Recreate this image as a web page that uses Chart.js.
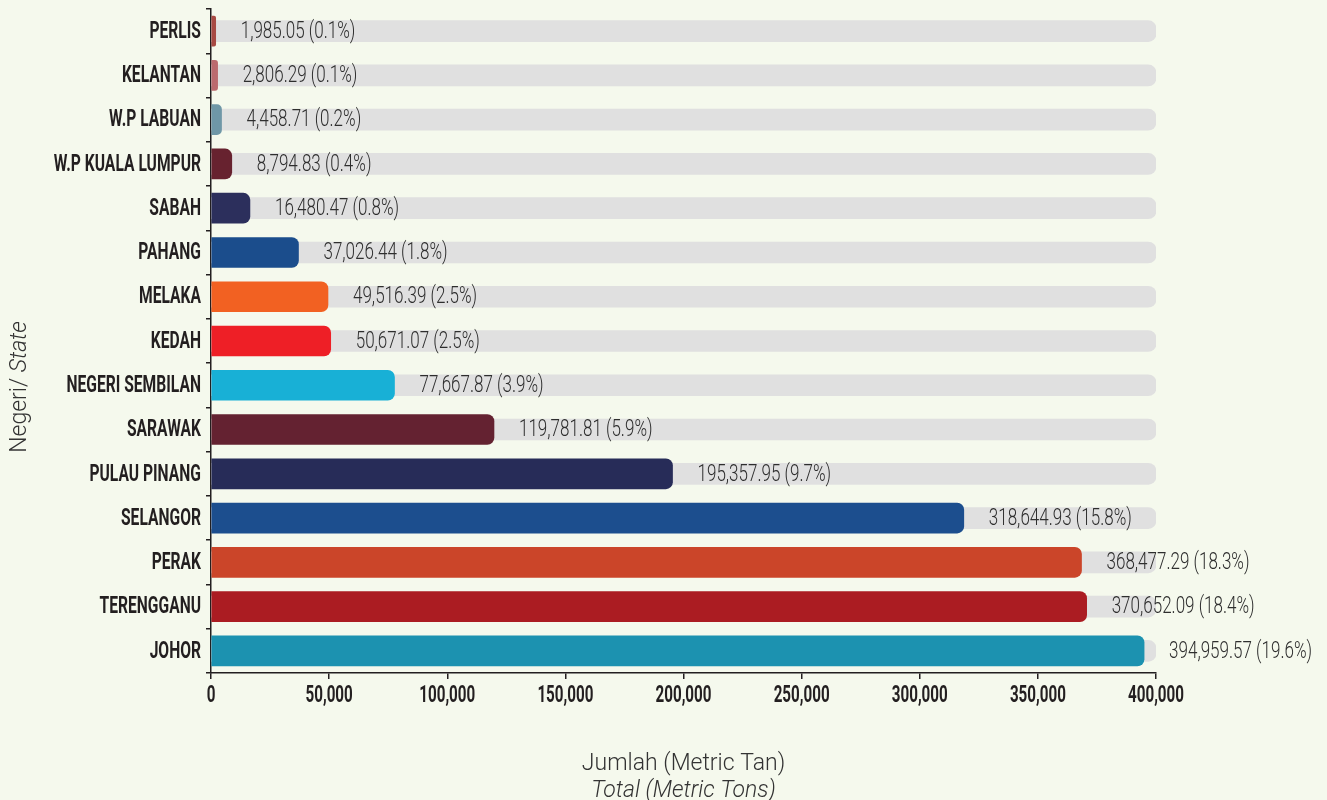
<!DOCTYPE html>
<html>
<head>
<meta charset="utf-8">
<title>Jumlah mengikut Negeri</title>
<script src="https://cdn.jsdelivr.net/npm/chart.js@4/dist/chart.umd.min.js"></script>
<style>
  html, body { margin: 0; padding: 0; background: #f5f9ed; }
  #wrap { position: relative; width: 1327px; height: 800px; }
</style>
</head>
<body>
<div id="wrap"><canvas id="chart" width="1327" height="800"></canvas></div>
<script>
// States, top to bottom
const states = ['PERLIS', 'KELANTAN', 'W.P LABUAN', 'W.P KUALA LUMPUR', 'SABAH', 'PAHANG', 'MELAKA',
  'KEDAH', 'NEGERI SEMBILAN', 'SARAWAK', 'PULAU PINANG', 'SELANGOR', 'PERAK', 'TERENGGANU', 'JOHOR'];

// Total in metric tons
const totals = [1985.05, 2806.29, 4458.71, 8794.83, 16480.47, 37026.44, 49516.39,
  50671.07, 77667.87, 119781.81, 195357.95, 318644.93, 368477.29, 370652.09, 394959.57];

// Share of the national total (%)
const shares = [0.1, 0.1, 0.2, 0.4, 0.8, 1.8, 2.5, 2.5, 3.9, 5.9, 9.7, 15.8, 18.3, 18.4, 19.6];

const barColors = ['#a84a44', '#bb6a6e', '#6f97a7', '#67222f', '#2c2f5c', '#1b4d8c', '#f26122',
  '#ee1f26', '#18b0d6', '#642231', '#272c58', '#1c4e8e', '#cb4529', '#ab1c22', '#1c92b0'];

const axisMax = 400000;
const xTicks = [0, 50000, 100000, 150000, 200000, 250000, 300000, 350000, 400000];

const ink = '#231f20';
const boldFont = "bold 23px Roboto, sans-serif";
const lightFont = "300 23px Roboto, sans-serif";

const fmt = v => v.toLocaleString('en-US', { minimumFractionDigits: 2, maximumFractionDigits: 2 });

// Narrow lettering: draw text squeezed horizontally around its anchor
function narrowText(ctx, text, x, y, font, squeeze, align, color) {
  ctx.save();
  ctx.font = font;
  ctx.fillStyle = color;
  ctx.textAlign = align;
  ctx.textBaseline = 'middle';
  ctx.translate(x, y);
  ctx.scale(squeeze, 1);
  ctx.fillText(text, 0, 0);
  ctx.restore();
}

// Tick labels, value labels and axis titles
const annotate = {
  id: 'annotate',
  afterDatasetsDraw(chart) {
    const { ctx } = chart;
    const xs = chart.scales.x, ys = chart.scales.y;

    states.forEach((s, i) => {
      narrowText(ctx, s, 201, ys.getPixelForValue(i) + 1, boldFont, 0.68, 'right', ink);
    });

    xTicks.forEach(v => {
      narrowText(ctx, v.toLocaleString('en-US'), xs.getPixelForValue(v), 696, boldFont, 0.66, 'center', ink);
    });

    totals.forEach((v, i) => {
      const x = xs.getPixelForValue(v) + 25;
      const y = ys.getPixelForValue(i) + 1;
      narrowText(ctx, fmt(v) + ' (' + shares[i].toFixed(1) + '%)', x, y, lightFont, 0.74, 'left', '#2e2e2e');
    });
  },
  afterDraw(chart) {
    const { ctx, chartArea } = chart;
    const cx = (chartArea.left + chartArea.right) / 2;
    ctx.save();
    ctx.fillStyle = '#333';
    ctx.textAlign = 'center';
    ctx.textBaseline = 'alphabetic';
    ctx.font = "300 23px Roboto, sans-serif";
    ctx.fillText('Jumlah (Metric Tan)', cx, 770);
    ctx.font = "italic 300 23px Roboto, sans-serif";
    ctx.fillText('Total (Metric Tons)', cx, 797);

    // Rotated y title: "Negeri/ " upright, "State" italic
    ctx.translate(26, 387);
    ctx.rotate(-Math.PI / 2);
    ctx.textAlign = 'left';
    const a = 'Negeri/ ', b = 'State';
    ctx.font = "300 23px Roboto, sans-serif";
    const wa = ctx.measureText(a).width;
    ctx.font = "italic 300 23px Roboto, sans-serif";
    const wb = ctx.measureText(b).width;
    const start = -(wa + wb) / 2;
    ctx.font = "300 23px Roboto, sans-serif";
    ctx.fillText(a, start, 0);
    ctx.font = "italic 300 23px Roboto, sans-serif";
    ctx.fillText(b, start + wa, 0);
    ctx.restore();
  }
};

// Paint the page colour behind the chart
const backdrop = {
  id: 'backdrop',
  beforeDraw(chart) {
    const { ctx } = chart;
    ctx.save();
    ctx.fillStyle = '#f5f9ed';
    ctx.fillRect(0, 0, chart.width, chart.height);
    ctx.restore();
  }
};

new Chart(document.getElementById('chart'), {
  type: 'bar',
  data: {
    labels: states,
    datasets: [
      {
        label: 'Jumlah',
        data: totals,
        backgroundColor: barColors,
        borderWidth: 0,
        borderRadius: 7,
        borderSkipped: 'start',
        barThickness: 30,
        grouped: false
      },
      {
        label: 'track',
        data: states.map(() => axisMax),
        backgroundColor: '#e0e0e0',
        borderWidth: 0,
        borderRadius: 8,
        borderSkipped: 'start',
        barThickness: 21,
        grouped: false
      }
    ]
  },
  options: {
    indexAxis: 'y',
    responsive: false,
    animation: false,
    devicePixelRatio: 1,
    layout: { padding: { top: 9, right: 171, left: 0, bottom: 0 } },
    plugins: {
      legend: { display: false },
      tooltip: { enabled: false }
    },
    scales: {
      x: {
        min: 0,
        max: axisMax,
        afterBuildTicks(scale) { scale.ticks = xTicks.map(v => ({ value: v })); },
        afterFit(scale) { scale.height = 127; scale.paddingLeft = 0; scale.paddingRight = 0; },
        grid: { drawOnChartArea: false, drawTicks: true, tickLength: 6, color: ink, lineWidth: 1.5 },
        border: { display: true, color: ink, width: 1.5 },
        ticks: { display: false }
      },
      y: {
        afterFit(scale) { scale.width = 211; scale.paddingTop = 0; scale.paddingBottom = 0; },
        grid: { drawOnChartArea: false, drawTicks: true, tickLength: 5, color: ink, lineWidth: 1.5, offset: true },
        border: { display: true, color: ink, width: 1.5 },
        ticks: { display: false }
      }
    }
  },
  plugins: [backdrop, annotate]
});
</script>
</body>
</html>
